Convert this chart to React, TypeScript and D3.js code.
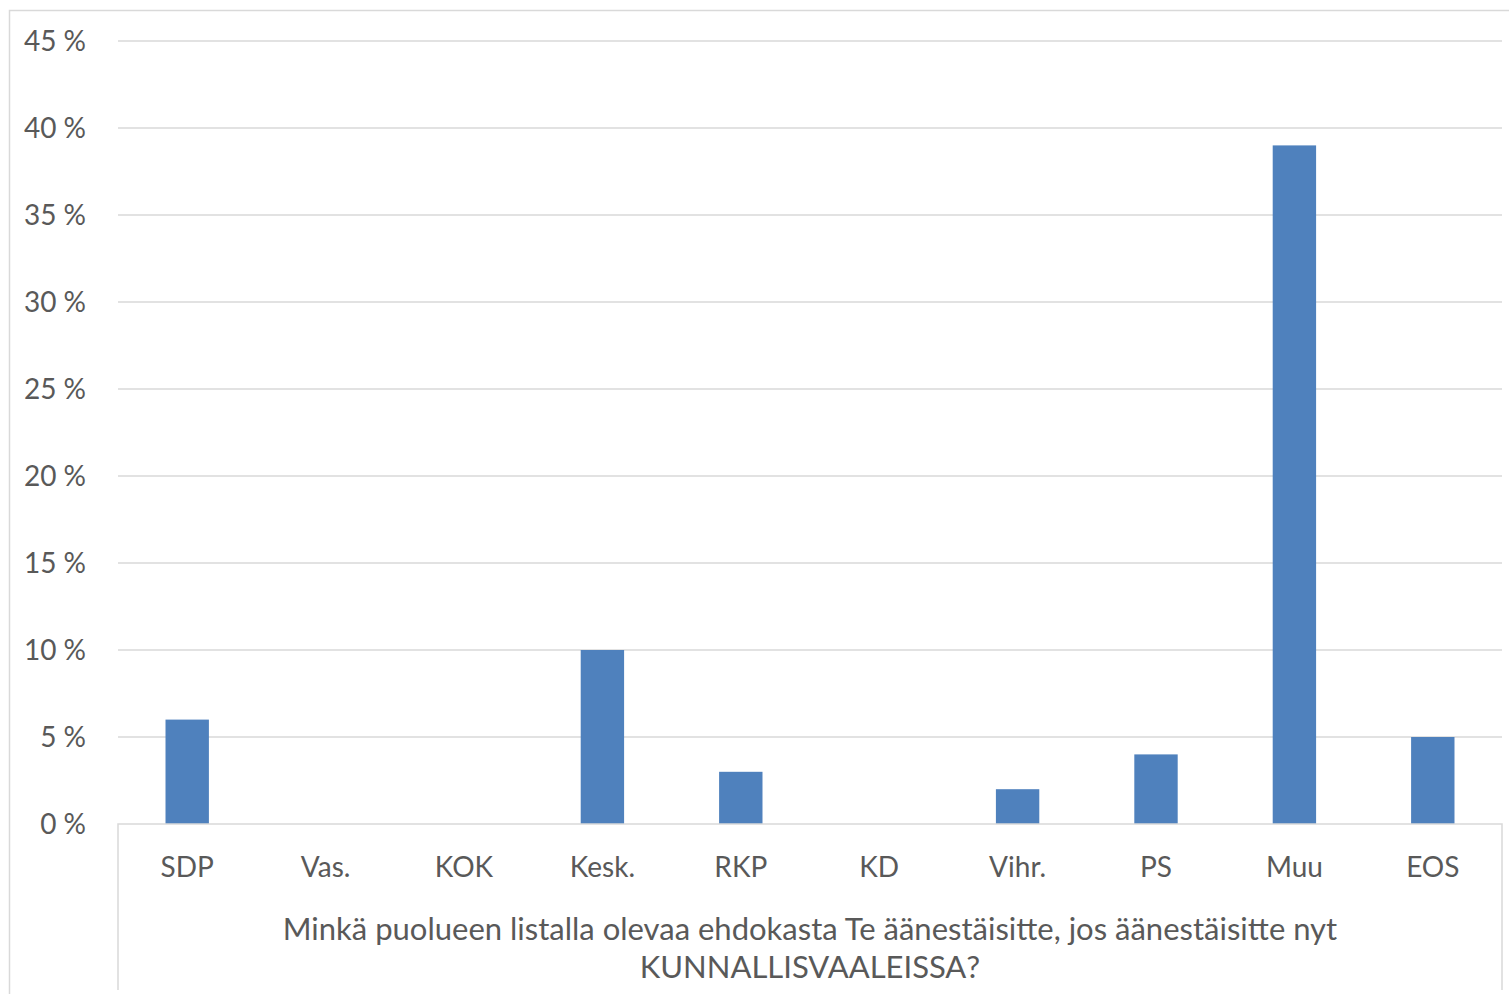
import React, { useEffect, useRef } from 'react';
import * as d3 from 'd3';

const categories = ["SDP", "Vas.", "KOK", "Kesk.", "RKP", "KD", "Vihr.", "PS", "Muu", "EOS"];
const values = [6, 0, 0, 10, 3, 0, 2, 4, 39, 5];
const yTicks = [0, 5, 10, 15, 20, 25, 30, 35, 40, 45];
const titleLines = [
  "Minkä puolueen listalla olevaa ehdokasta Te äänestäisitte, jos äänestäisitte nyt",
  "KUNNALLISVAALEISSA?",
];

const App: React.FC = () => {
  const svgRef = useRef<SVGSVGElement>(null);

  useEffect(() => {
    if (!svgRef.current) return;

    const width = 1509;
    const height = 994;
    const left = 118;
    const right = 1502;
    const top = 41;
    const bottom = 824;
    const font = "Lato, 'Open Sans', sans-serif";
    const textColor = "#595959";
    const lineColor = "#d9d9d9";

    const svg = d3.select(svgRef.current)
      .attr("width", width)
      .attr("height", height)
      .attr("viewBox", `0 0 ${width} ${height}`);

    const x = d3.scaleBand<string>().domain(categories).range([left, right]).padding(0);
    const y = d3.scaleLinear().domain([0, 45]).range([bottom, top]);
    const barW = x.bandwidth() / 3.19;

    // chart border
    svg.append("path")
      .attr("d", `M9.5,${height}V10.5H${width}`)
      .attr("fill", "none")
      .attr("stroke", lineColor)
      .attr("stroke-width", 1.5);

    // gridlines
    svg.selectAll(".grid")
      .data(yTicks.filter(t => t > 0))
      .enter()
      .append("line")
      .attr("x1", left)
      .attr("x2", right)
      .attr("y1", d => y(d))
      .attr("y2", d => y(d))
      .attr("stroke", lineColor)
      .attr("stroke-width", 1.5);

    // y tick labels
    svg.selectAll(".ytick")
      .data(yTicks)
      .enter()
      .append("text")
      .attr("x", 86)
      .attr("y", d => y(d))
      .attr("dy", "0.35em")
      .attr("text-anchor", "end")
      .attr("fill", textColor)
      .attr("font-family", font)
      .attr("font-size", 28)
      .text(d => `${d} %`);

    // bars
    svg.selectAll(".bar")
      .data(values)
      .enter()
      .append("rect")
      .attr("x", (d, i) => (x(categories[i]) as number) + (x.bandwidth() - barW) / 2)
      .attr("y", d => y(d))
      .attr("width", barW)
      .attr("height", d => bottom - y(d))
      .attr("fill", "#4f81bd");

    // category axis box
    svg.append("path")
      .attr("d", `M${left},990V${bottom}H${right}V990`)
      .attr("fill", "none")
      .attr("stroke", lineColor)
      .attr("stroke-width", 1.5);

    // category labels
    svg.selectAll(".xtick")
      .data(categories)
      .enter()
      .append("text")
      .attr("x", d => (x(d) as number) + x.bandwidth() / 2)
      .attr("y", 877)
      .attr("text-anchor", "middle")
      .attr("fill", textColor)
      .attr("font-family", font)
      .attr("font-size", 28)
      .text(d => d);

    // axis title
    svg.selectAll(".title")
      .data(titleLines)
      .enter()
      .append("text")
      .attr("x", (left + right) / 2)
      .attr("y", (d, i) => 940 + i * 38)
      .attr("text-anchor", "middle")
      .attr("fill", textColor)
      .attr("font-family", font)
      .attr("font-size", 31)
      .text(d => d);

    return () => {
      d3.select(svgRef.current).selectAll("*").remove();
    };
  }, []);

  return (
    <div style={{ position: "absolute", left: 0, top: 0, background: "#fff" }}>
      <svg ref={svgRef} style={{ display: "block" }}></svg>
    </div>
  );
};

export default App;
